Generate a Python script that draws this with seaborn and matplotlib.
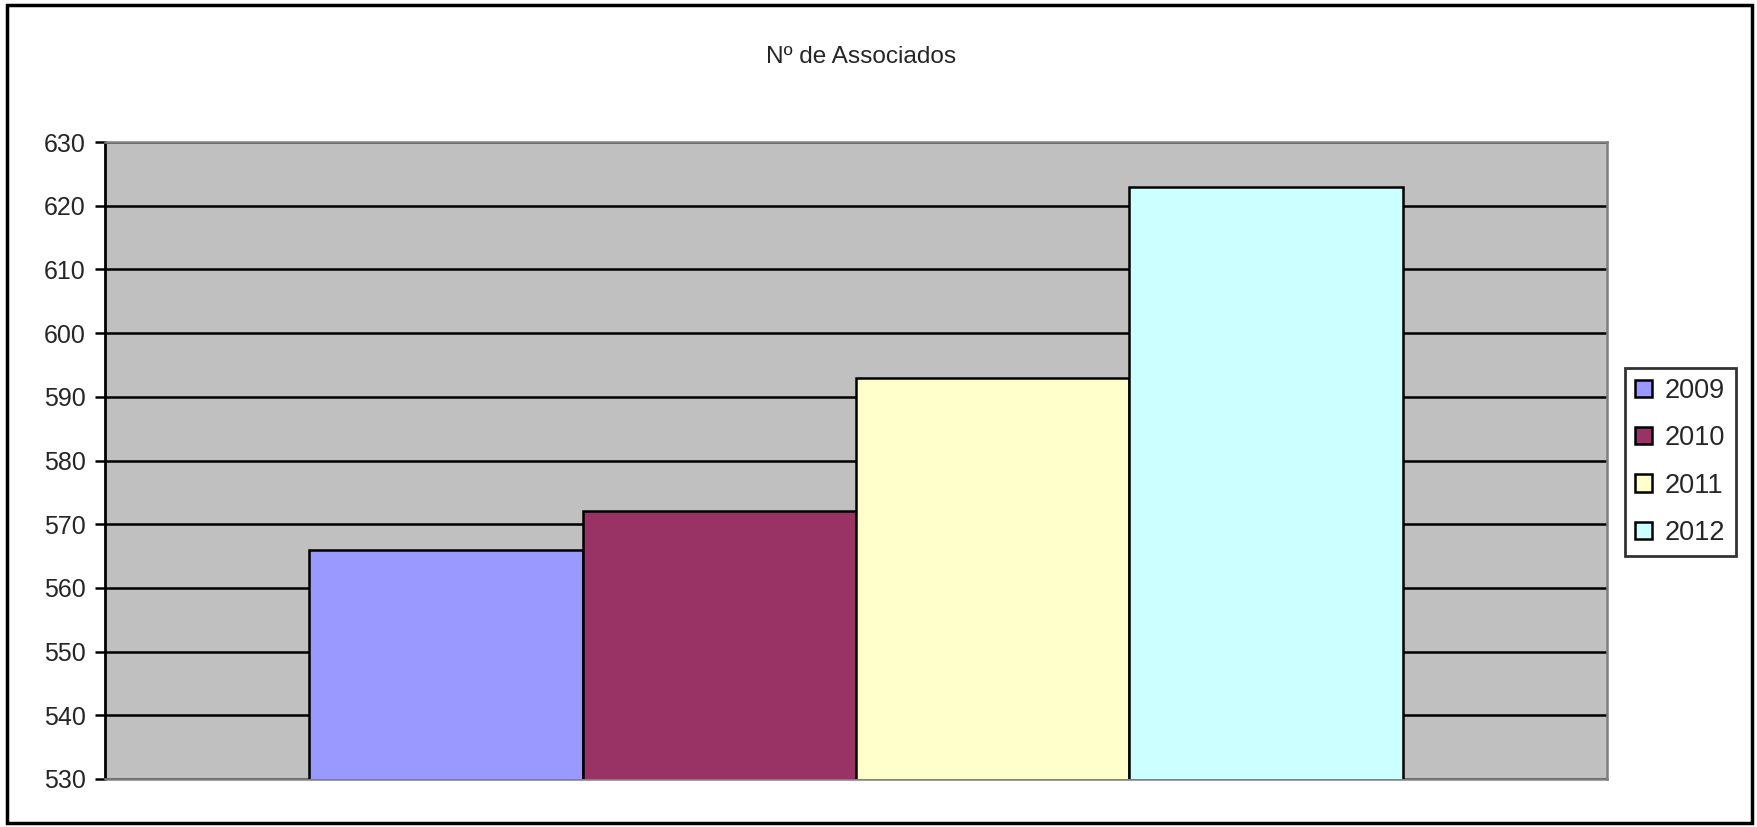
"""
Bar chart: Nº de Associados by year
"""
import matplotlib
matplotlib.use("Agg")
import matplotlib.pyplot as plt
import matplotlib.patches as mpatches
import seaborn as sns
import pandas as pd

# ========== Data ==========
years = ["2009", "2010", "2011", "2012"]
members = [566, 572, 593, 623]
colors = ["#9999FF", "#993366", "#FFFFCC", "#CCFFFF"]
title = "Nº de Associados"

df = pd.DataFrame({"cat": [""] * len(years), "year": years, "value": members})

# ========== Plot ==========
sns.set_style("white")
plt.rcParams["font.family"] = ["Liberation Sans", "DejaVu Sans"]

W, H = 1758, 827
fig = plt.figure(figsize=(W / 100, H / 100), dpi=100)
ax = fig.add_axes([105 / W, 1 - 779 / H, (1607 - 105) / W, (779 - 142) / H])

ax.set_facecolor("#C0C0C0")
sns.barplot(data=df, x="cat", y="value", hue="year", palette=colors,
            saturation=1, width=0.728, edgecolor="black", linewidth=1.8,
            ax=ax, zorder=3)

ax.set_ylim(530, 630)
ax.set_xlim(-0.5, 0.5)
ax.set_yticks(range(530, 631, 10))
ax.yaxis.grid(True, color="black", linewidth=1.8, zorder=0)
ax.set_axisbelow(True)
ax.set_xticks([])
ax.set_xlabel("")
ax.set_ylabel("")
ax.tick_params(axis="y", direction="out", length=7, width=1.8, color="black",
               labelsize=18, pad=7, left=True)

for side in ["top", "right", "bottom"]:
    ax.spines[side].set_color("#808080")
    ax.spines[side].set_linewidth(1.8)
ax.spines["left"].set_color("black")
ax.spines["left"].set_linewidth(2)

fig.text(861 / W, 1 - 57 / H, title, ha="center", va="center", fontsize=17.6)

handles = [mpatches.Patch(facecolor=c, edgecolor="black", linewidth=1.8, label=y)
           for c, y in zip(colors, years)]
ax.get_legend().remove()
leg = fig.legend(handles=handles, loc="upper left",
                 bbox_to_anchor=(1625 / W, 1 - 368 / H),
                 frameon=True, fancybox=False, fontsize=19.5,
                 handlelength=0.6, handleheight=0.6, handletextpad=0.5,
                 labelspacing=0.78, borderpad=0.38, borderaxespad=0)
leg.get_frame().set_edgecolor("black")
leg.get_frame().set_linewidth(2)

# outer chart border
fig.patches.append(mpatches.Rectangle((7 / W, 4 / H), 1 - 13 / W, 1 - 9 / H,
                                      transform=fig.transFigure, fill=False,
                                      edgecolor="black", linewidth=2.5))

fig.savefig("out.png", dpi=100)
plt.close(fig)
